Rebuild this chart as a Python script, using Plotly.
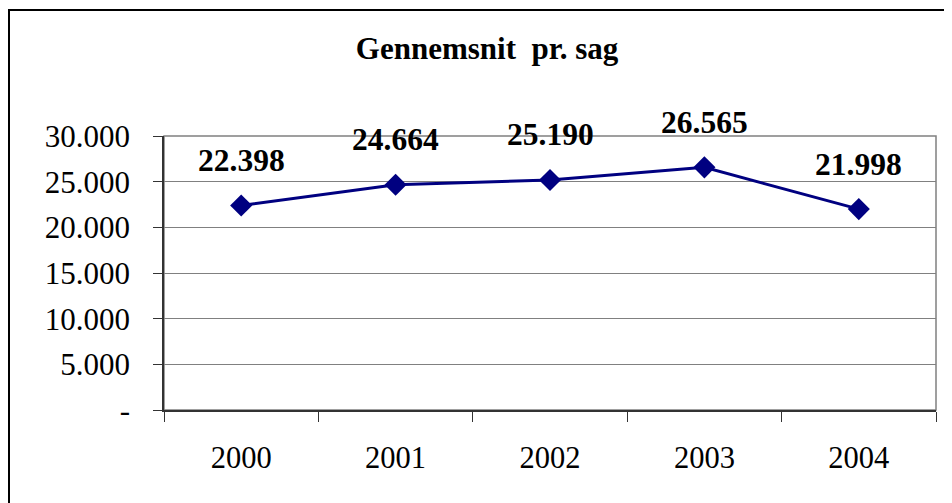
import plotly.graph_objects as go

years = ["2000", "2001", "2002", "2003", "2004"]
values = [22398, 24664, 25190, 26565, 21998]
value_labels = ["22.398", "24.664", "25.190", "26.565", "21.998"]
y_tickvals = [0, 5000, 10000, 15000, 20000, 25000, 30000]
y_ticktext = ["-", "5.000", "10.000", "15.000", "20.000", "25.000", "30.000"]
title_text = "Gennemsnit  pr. sag"

SERIF = "'Liberation Serif', 'Times New Roman', serif"

# page body has an 8px margin, so the figure is sized to the visible area
W, H = 944, 495
L, R, T, B = 156, 16, 128, 93
pw, ph = W - L - R, H - T - B

fig = go.Figure()
fig.add_trace(go.Scatter(
    x=years, y=values, mode="lines+markers",
    line=dict(color="#000080", width=3),
    marker=dict(symbol="diamond", size=17, color="#000080"),
    cliponaxis=False, showlegend=False, hoverinfo="skip",
))

for i, (y, t) in enumerate(zip(values, value_labels)):
    fig.add_annotation(x=i, y=y, text=t, showarrow=False, xref="x", yref="y",
                       yshift=45,
                       font=dict(family=SERIF, size=31.5, color="black", weight="bold"))

# plot area border (gray)
fig.add_shape(type="rect", xref="paper", yref="paper", x0=0, x1=1, y0=0, y1=1,
              line=dict(color="#808080", width=1.5), layer="below")
# outer chart border
fig.add_shape(type="rect", xref="paper", yref="paper",
              x0=(1 - L) / pw, x1=(W + 20 - L) / pw,
              y0=-(B + 20) / ph, y1=(H - B - 2) / ph,
              line=dict(color="black", width=2))

fig.update_layout(
    width=W, height=H,
    margin=dict(l=L, r=R, t=T, b=B),
    paper_bgcolor="white", plot_bgcolor="white",
    font=dict(family=SERIF, color="black"),
    title=dict(text=title_text, x=479 / W, xanchor="center", y=1 - 40 / H, yanchor="middle",
               font=dict(family=SERIF, size=31, color="black", weight="bold")),
)
fig.update_xaxes(
    type="category", range=[-0.5, 4.5], tickson="boundaries",
    showline=True, linecolor="#333333", linewidth=1.5,
    ticks="outside", ticklen=10, tickcolor="#333333", tickwidth=1,
    showgrid=False, ticklabelstandoff=20,
    tickfont=dict(family=SERIF, size=30.5, color="black"),
)
fig.update_yaxes(
    range=[0, 30000], tickvals=y_tickvals, ticktext=y_ticktext,
    showline=True, linecolor="#333333", linewidth=1.5,
    ticks="outside", ticklen=9, tickcolor="#333333", tickwidth=1,
    showgrid=True, gridcolor="#808080", gridwidth=1.2, zeroline=False,
    ticklabelstandoff=17,
    tickfont=dict(family=SERIF, size=31, color="black"),
)

fig.write_html("out.html")
